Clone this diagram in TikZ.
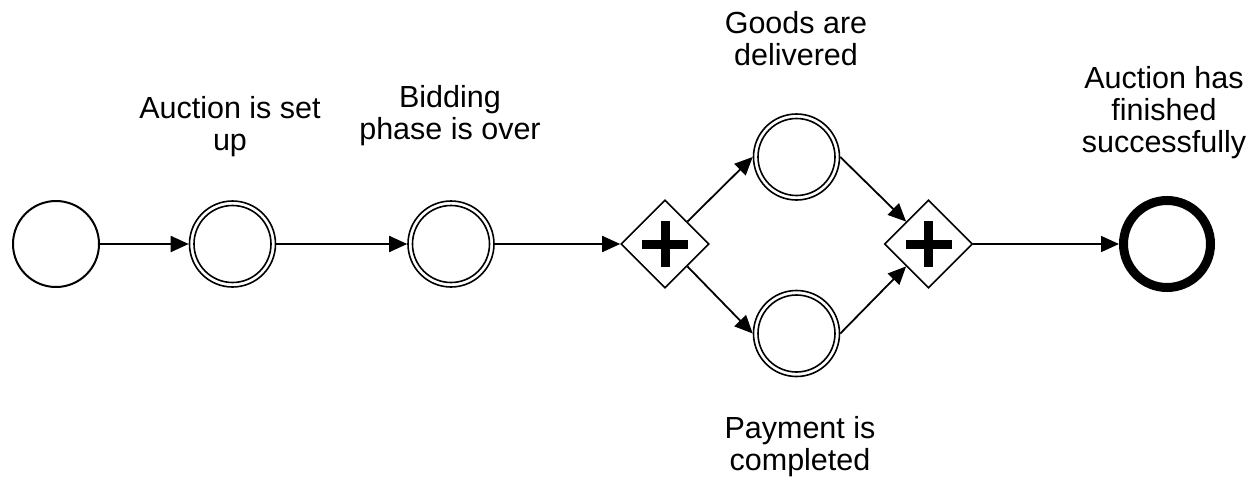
\documentclass[tikz,border=0pt]{standalone}
\usepackage{fontspec}
\setmainfont{Liberation Sans}
\usetikzlibrary{arrows.meta,shapes.geometric}
\begin{document}
\begin{tikzpicture}[x=1pt,y=-1pt,
  ev/.style={circle,draw,line width=2pt,minimum size=86pt,inner sep=0pt},
  iev/.style={circle,draw,line width=1.6pt,minimum size=86pt,inner sep=0pt,
    path picture={\draw[line width=1.6pt] (path picture bounding box.center) circle (38.5pt);}},
  endev/.style={circle,draw,line width=9pt,minimum size=87pt,inner sep=0pt},
  gw/.style={diamond,draw,line width=1.6pt,minimum width=88pt,minimum height=88pt,inner sep=0pt,
    path picture={\fill (path picture bounding box.center) ++(-23pt,-4.5pt) rectangle ++(46pt,9pt);
                  \fill (path picture bounding box.center) ++(-4.5pt,-23pt) rectangle ++(9pt,46pt);}},
  flow/.style={line width=1.8pt,-{Triangle[length=18pt,width=16pt]}},
  lbl/.style={align=center,inner sep=0pt,anchor=base,font=\fontsize{30.5}{32}\selectfont}]
\useasboundingbox (0,0) rectangle (1254,485);
\node[ev] (s) at (56,244) {};
\node[iev] (e1) at (232.5,244) {};
\node[iev] (e2) at (451,244) {};
\node[gw] (g1) at (665,244) {};
\node[iev] (et) at (796.5,157) {};
\node[iev] (eb) at (796.5,333.5) {};
\node[gw] (g2) at (928.5,244) {};
\node[endev] (end) at (1167,244) {};
\draw[flow] (s) -- (e1);
\draw[flow] (e1) -- (e2);
\draw[flow] (e2) -- (g1);
\draw[flow] (g1.north east) -- (et.west);
\draw[flow] (g1.south east) -- (eb.west);
\draw[flow] (et.east) -- (g2.north west);
\draw[flow] (eb.east) -- (g2.south west);
\draw[flow] (g2) -- (end);
\node[lbl] (l1) at (230,150) {Auction is set\\up};
\node[lbl] (l2) at (450,139) {Bidding\\phase is over};
\node[lbl] (l3) at (796,65) {Goods are\\delivered};
\node[lbl] (l4) at (800,470) {Payment is\\completed};
\node[lbl] (l5) at (1164,152) {Auction has\\finished\\successfully};
\end{tikzpicture}
\end{document}
